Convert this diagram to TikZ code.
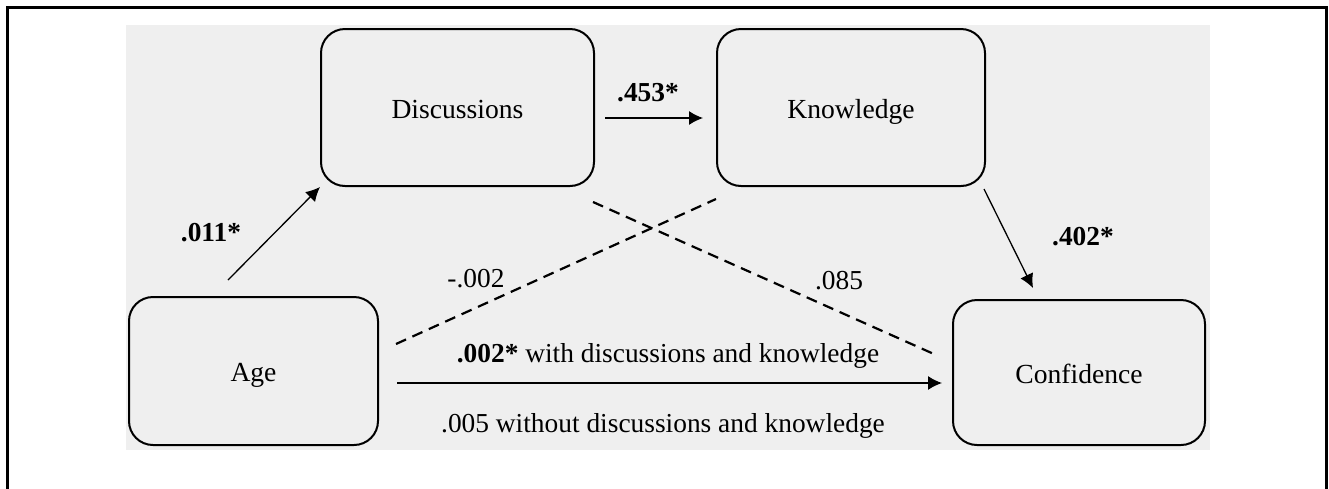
\documentclass[tikz,border=0pt]{standalone}
\usepackage{fontspec}
\setmainfont{Liberation Serif}
\usepackage{xcolor}
\usetikzlibrary{arrows.meta, positioning}

\definecolor{panelgray}{HTML}{EFEFEF}

\tikzset{
  var/.style={draw, line width=1pt, rounded corners=12pt, fill=panelgray,
    inner sep=0pt, text height=2.4ex, text depth=0.1ex,
    font=\fontsize{13.8}{16}\selectfont},
  path/.style={-{Latex[length=7pt,width=7pt]}, line width=0.65pt},
  nopath/.style={line width=1.1pt, dash pattern=on 5.5pt off 3.5pt},
  coef/.style={inner sep=1pt, font=\fontsize{13.7}{16}\selectfont}
}

\begin{document}
\begin{tikzpicture}[x=0.5pt, y=-0.5pt]
    \useasboundingbox (0,0) rectangle (1329,488);

    % Frame and panel
    \draw[line width=1.5pt] (7,495) -- (7,7) -- (1326,7) -- (1326,495);
    \fill[panelgray] (126,25) rectangle (1210,450);

    % Variables
    \node[var, minimum width=136.5pt, minimum height=78.5pt] (disc) at (457.5,107.5) {Discussions};
    \node[var, minimum width=134pt, minimum height=78.5pt] (know) at (851,107.5) {Knowledge};
    \node[var, minimum width=124.5pt, minimum height=74pt] (age) at (253.5,371) {Age};
    \node[var, minimum width=126pt, minimum height=72.5pt] (conf) at (1079,372.5) {Confidence};

    % Paths with coefficients
    \draw[path] ([xshift=-12.75pt,yshift=8pt]age.north) -- (disc.south west);
    \node[coef] (b-ad) at (211,233) {\textbf{.011*}};

    \draw[path] ([xshift=5pt,yshift=-5.25pt]disc.east) -- ([xshift=-6.5pt,yshift=-5.25pt]know.west);
    \node[coef] (b-dk) at (648,93) {\textbf{.453*}};

    \draw[path] ([xshift=-1pt,yshift=-1pt]know.south east) -- ([xshift=-23pt,yshift=5.5pt]conf.north);
    \node[coef] (b-kc) at (1083,237) {\textbf{.402*}};

    % Non-significant paths
    \draw[nopath] ([xshift=8.5pt,yshift=13.5pt]age.east) -- ([yshift=-6pt]know.south west);
    \node[coef] (b-ak) at (476,279) {-.002};

    \draw[nopath] ([xshift=-1pt,yshift=-7.5pt]disc.south east) -- ([xshift=-8.5pt,yshift=9pt]conf.west);
    \node[coef] (b-dc) at (839,281) {.085};

    % Direct effect
    \draw[path] ([xshift=9pt,yshift=-6pt]age.east) -- ([xshift=-5pt,yshift=-5.25pt]conf.west);
    \node[coef] (b-ac) at (668,356) {\textbf{.002*} with discussions and knowledge};
    \node[coef] (b-ac0) at (663,426) {.005 without discussions and knowledge};
\end{tikzpicture}
\end{document}
